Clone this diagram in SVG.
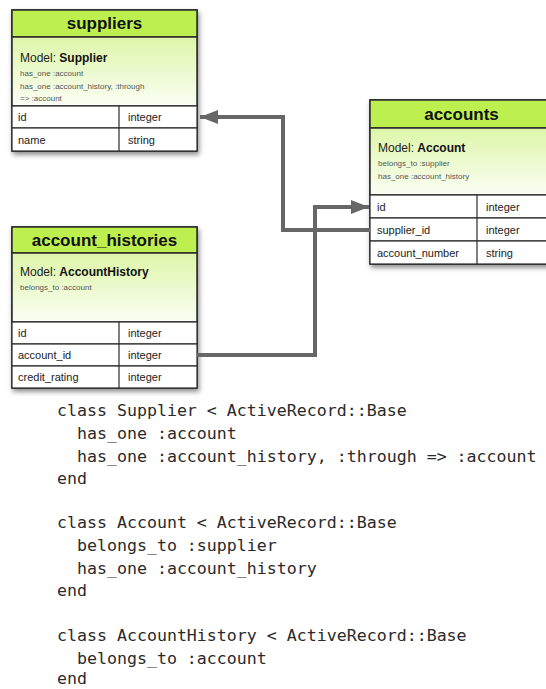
<svg xmlns="http://www.w3.org/2000/svg" width="546" height="689" viewBox="0 0 546 689">
<defs>
  <filter id="sh" x="-10%" y="-10%" width="130%" height="130%">
    <feDropShadow dx="1.5" dy="3" stdDeviation="2.5" flood-color="#000" flood-opacity="0.45"/>
  </filter>
  <linearGradient id="mg" x1="0" y1="0" x2="0" y2="1">
    <stop offset="0" stop-color="#ddf6a8"/>
    <stop offset="1" stop-color="#fbfef5"/>
  </linearGradient>
  <marker id="ah" markerUnits="userSpaceOnUse" markerWidth="20" markerHeight="16" refX="18" refY="8" orient="auto">
    <polygon points="0,1 18,8 0,15" fill="#676767"/>
  </marker>
  <style>
    .box{fill:#fff;stroke:#2a2a2a;stroke-width:1.5}
    .hdr{fill:#bdf04e;stroke:#2a2a2a;stroke-width:1.5}
    .mdl{fill:url(#mg);stroke:#2a2a2a;stroke-width:1.5}
    .row{fill:#fff;stroke:#2a2a2a;stroke-width:1.2}
    .ln{stroke:#2a2a2a;stroke-width:1.2}
    .title{font-family:"Liberation Sans",Arial,sans-serif;font-weight:bold;font-size:17px;fill:#111;text-anchor:middle}
    .model{font-family:"Liberation Sans",Arial,sans-serif;font-size:12px;fill:#222}
    .model tspan.b{font-weight:bold;fill:#111}
    .rel{font-family:"Liberation Sans",Arial,sans-serif;font-size:8px;fill:#555}
    .cell{font-family:"Liberation Sans",Arial,sans-serif;font-size:11px;fill:#222}
    .conn{fill:none;stroke:#676767;stroke-width:4}
    .code{font-family:"DejaVu Sans Mono",monospace;font-size:16.6px;fill:#2a2a2a;white-space:pre}
  </style>
</defs>

<g id="suppliers">
  <g filter="url(#sh)">
    <rect class="box" x="12" y="10" width="185" height="141"/>
  </g>
  <rect class="hdr" x="12" y="10" width="185" height="27"/>
  <rect class="mdl" x="12" y="37" width="185" height="69"/>
  <rect class="row" x="12" y="106" width="185" height="22"/>
  <rect class="row" x="12" y="128" width="185" height="23"/>
  <line class="ln" x1="119" y1="106" x2="119" y2="151"/>
  <text class="title" x="104.5" y="29">suppliers</text>
  <text class="model" x="20" y="62">Model: <tspan class="b">Supplier</tspan></text>
  <text class="rel" x="20" y="76">has_one :account</text>
  <text class="rel" x="20" y="89">has_one :account_history, :through</text>
  <text class="rel" x="20" y="101">=&gt; :account</text>
  <text class="cell" x="18" y="121">id</text>
  <text class="cell" x="128" y="121">integer</text>
  <text class="cell" x="18" y="144">name</text>
  <text class="cell" x="128" y="144">string</text>
</g>

<g id="accounts">
  <g filter="url(#sh)">
    <rect class="box" x="370" y="100" width="185" height="164"/>
  </g>
  <rect class="hdr" x="370" y="100" width="185" height="28"/>
  <rect class="mdl" x="370" y="128" width="185" height="67"/>
  <rect class="row" x="370" y="195" width="185" height="23"/>
  <rect class="row" x="370" y="218" width="185" height="23"/>
  <rect class="row" x="370" y="241" width="185" height="23"/>
  <line class="ln" x1="477" y1="195" x2="477" y2="264"/>
  <text class="title" x="461.5" y="120">accounts</text>
  <text class="model" x="378" y="152">Model: <tspan class="b">Account</tspan></text>
  <text class="rel" x="378" y="166">belongs_to :supplier</text>
  <text class="rel" x="378" y="179">has_one :account_history</text>
  <text class="cell" x="377" y="211">id</text>
  <text class="cell" x="486" y="211">integer</text>
  <text class="cell" x="377" y="234">supplier_id</text>
  <text class="cell" x="486" y="234">integer</text>
  <text class="cell" x="377" y="257">account_number</text>
  <text class="cell" x="486" y="257">string</text>
</g>

<g id="account_histories">
  <g filter="url(#sh)">
    <rect class="box" x="12" y="227" width="185" height="161"/>
  </g>
  <rect class="hdr" x="12" y="227" width="185" height="26"/>
  <rect class="mdl" x="12" y="253" width="185" height="69"/>
  <rect class="row" x="12" y="322" width="185" height="22"/>
  <rect class="row" x="12" y="344" width="185" height="22"/>
  <rect class="row" x="12" y="366" width="185" height="22"/>
  <line class="ln" x1="119" y1="322" x2="119" y2="388"/>
  <text class="title" x="104.5" y="246">account_histories</text>
  <text class="model" x="20" y="276">Model: <tspan class="b">AccountHistory</tspan></text>
  <text class="rel" x="20" y="290">belongs_to :account</text>
  <text class="cell" x="18" y="337">id</text>
  <text class="cell" x="128" y="337">integer</text>
  <text class="cell" x="18" y="359">account_id</text>
  <text class="cell" x="128" y="359">integer</text>
  <text class="cell" x="18" y="381">credit_rating</text>
  <text class="cell" x="128" y="381">integer</text>
</g>

<g id="connectors">
  <path class="conn" d="M370,230 H283 V117 H200" marker-end="url(#ah)"/>
  <path class="conn" d="M197,355 H315 V207 H369" marker-end="url(#ah)"/>
</g>

<g id="code">
  <text class="code" x="57" y="416">class Supplier &lt; ActiveRecord::Base</text>
  <text class="code" x="57" y="439">  has_one :account</text>
  <text class="code" x="57" y="462">  has_one :account_history, :through =&gt; :account</text>
  <text class="code" x="57" y="484">end</text>
  <text class="code" x="57" y="528">class Account &lt; ActiveRecord::Base</text>
  <text class="code" x="57" y="551">  belongs_to :supplier</text>
  <text class="code" x="57" y="574">  has_one :account_history</text>
  <text class="code" x="57" y="596">end</text>
  <text class="code" x="57" y="641">class AccountHistory &lt; ActiveRecord::Base</text>
  <text class="code" x="57" y="664">  belongs_to :account</text>
  <text class="code" x="57" y="684">end</text>
</g>
</svg>
